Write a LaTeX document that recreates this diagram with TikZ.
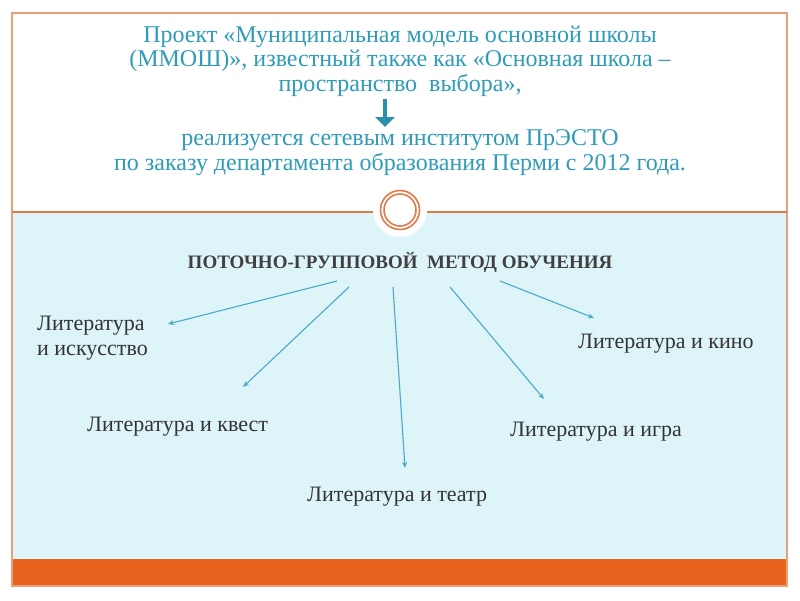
\documentclass[tikz,border=0pt]{standalone}
\usepackage{fontspec}
\setmainfont{Liberation Serif}
\usetikzlibrary{arrows.meta}
\definecolor{frameor}{HTML}{E8A07A}
\definecolor{lineor}{HTML}{E07A4A}
\definecolor{baror}{HTML}{E8641E}
\definecolor{lightblue}{HTML}{DDF4F9}
\definecolor{teal}{HTML}{2E9CB8}
\definecolor{arrowteal}{HTML}{2A8FAA}
\definecolor{linkblue}{HTML}{4AAAC8}
\definecolor{txt}{HTML}{333333}
\tikzset{
  toptext/.style={text=teal, font=\fontsize{24}{24}\selectfont, align=center, inner sep=0pt},
  lbl/.style={text=txt, font=\fontsize{22}{25}\selectfont, inner sep=0pt},
  link/.style={draw=linkblue, line width=1.1pt, -{Stealth[length=6pt,width=5pt]}},
  head/.style={text=black!75, font=\bfseries\fontsize{19}{20}\selectfont, inner sep=0pt}
}
\begin{document}
\begin{tikzpicture}[x=1pt,y=-1pt]
\useasboundingbox (0,0) rectangle (800,600);
\fill[white] (0,0) rectangle (800,600);
\fill[lightblue] (13,213) rectangle (786,558);
\fill[baror] (13,559) rectangle (786,585);
\draw[frameor, line width=1.2pt] (12,13) rectangle (787,586);
\draw[lineor, line width=1.2pt] (12,212) -- (787,212);
\fill[white] (400,210) circle (27);
\draw[lineor, line width=1.6pt] (400,210) circle (19.5);
\draw[lineor, line width=1.6pt] (400,210) circle (16);
% top text
\node[toptext] (t1) at (400,37) {Проект «Муниципальная модель основной школы};
\node[toptext] (t2) at (400,61) {(ММОШ)», известный также как «Основная школа –};
\node[toptext] (t3) at (400,85) {пространство\ \ выбора»,};
\coordinate (as) at (385,99);
\coordinate (ae) at (385,127);
\draw[arrowteal, line width=3.5pt, -{Triangle[length=10pt,width=19pt]}] (as) -- (ae);
\node[toptext] (t4) at (400,140) {реализуется сетевым институтом ПрЭСТО};
\node[toptext] (t5) at (400,164) {по заказу департамента образования Перми с 2012 года.};
% heading
\node[head] (h) at (400,262) {ПОТОЧНО-ГРУППОВОЙ\ \ МЕТОД ОБУЧЕНИЯ};
% labels
\node[lbl, anchor=west, align=left] (l1) at (37,338) {Литература\\и искусство};
\node[lbl, anchor=west] (l2) at (87,427) {Литература и квест};
\node[lbl, anchor=west] (l3) at (307,497) {Литература и театр};
\node[lbl, anchor=west] (l4) at (510,432) {Литература и игра};
\node[lbl, anchor=west] (l5) at (578,344) {Литература и кино};
% links
\coordinate (s1) at (337,281);
\coordinate (s2) at (349,287);
\coordinate (s3) at (393,287);
\coordinate (s4) at (450,287);
\coordinate (s5) at (500,281);
\coordinate (e1) at (168,324);
\coordinate (e2) at (243,387);
\coordinate (e3) at (405,468);
\coordinate (e4) at (544,399);
\coordinate (e5) at (594,318);
\draw[link] (s1) -- (e1);
\draw[link] (s2) -- (e2);
\draw[link] (s3) -- (e3);
\draw[link] (s4) -- (e4);
\draw[link] (s5) -- (e5);
\end{tikzpicture}
\end{document}
